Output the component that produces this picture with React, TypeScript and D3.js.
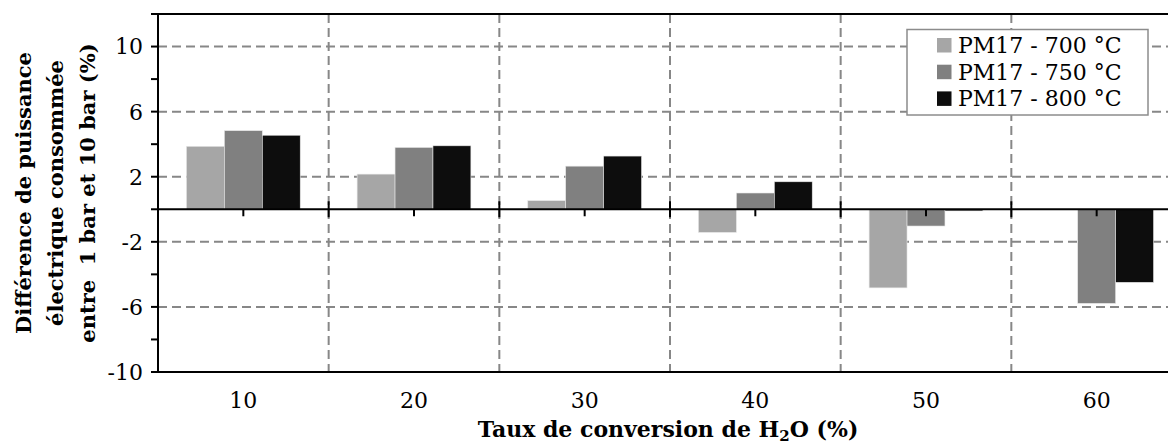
import React from "react";
import * as d3 from "d3";

const categories = ["10", "20", "30", "40", "50", "60"];
const seriesNames = ["PM17 - 700 °C", "PM17 - 750 °C", "PM17 - 800 °C"];
const s700 = [3.87, 2.16, 0.53, -1.42, -4.83, 0];
const s750 = [4.83, 3.8, 2.65, 1.0, -1.03, -5.78];
const s800 = [4.55, 3.9, 3.27, 1.69, -0.1, -4.49];
const seriesColors = ["#a6a6a6", "#808080", "#0d0d0d"];
const yTickValues = [-10, -8, -6, -4, -2, 0, 2, 4, 6, 8, 10, 12];
const yLabelValues = [-10, -6, -2, 2, 6, 10];
const yGridValues = [-6, -2, 2, 6, 10];
const yTitleLines = ["Différence de puissance", "électrique consommée", "entre  1 bar et 10 bar (%)"];

const W = 1168;
const H = 445;
const left = 158;
const top = 14;
const right = 1182;
const bottom = 372;
const FONT = "'DejaVu Serif', serif";

export default function App() {
  const series = [s700, s750, s800];
  const x0 = d3.scaleBand<string>().domain(categories).range([left, right]).paddingInner(0).paddingOuter(0);
  const bw = x0.bandwidth();
  const x1 = d3.scaleBand<number>().domain([0, 1, 2]).range([bw / 6, (bw * 5) / 6]).padding(0);
  const y = d3.scaleLinear().domain([-10, 12]).range([bottom, top]);
  const y0 = y(0);
  const boundaries = categories.slice(1).map((c) => x0(c) as number);

  return (
    <svg width={W} height={H} style={{ position: "absolute", left: 0, top: 0, background: "#fff" }} fontFamily={FONT}>
      <rect x={0} y={0} width={W} height={H} fill="#fff" />
      {yGridValues.map((v) => (
        <line key={"g" + v} x1={left} x2={right} y1={y(v)} y2={y(v)} stroke="#878787" strokeWidth={2} strokeDasharray="9 5" />
      ))}
      {boundaries.map((bx, i) => (
        <line key={"vg" + i} x1={bx} x2={bx} y1={top} y2={bottom} stroke="#878787" strokeWidth={2} strokeDasharray="9 5" />
      ))}
      {categories.map((c, ci) =>
        series.map((s, si) => {
          const v = s[ci];
          const bx = (x0(c) as number) + (x1(si) as number);
          const yy = Math.min(y(v), y0);
          const hh = Math.abs(y(v) - y0);
          return (
            <rect key={c + "-" + si} x={bx} y={yy} width={x1.bandwidth()} height={hh} fill={seriesColors[si]} stroke="#e6e6e6" strokeWidth={0.6} />
          );
        })
      )}
      <line x1={left} x2={right} y1={top} y2={top} stroke="#000" strokeWidth={2} />
      <line x1={left} x2={right} y1={bottom} y2={bottom} stroke="#000" strokeWidth={2} />
      <line x1={left} x2={left} y1={top} y2={bottom} stroke="#000" strokeWidth={2} />
      <line x1={left} x2={right} y1={y0} y2={y0} stroke="#000" strokeWidth={2} />
      {boundaries.map((bx, i) => (
        <line key={"bt" + i} x1={bx} x2={bx} y1={y0 - 8} y2={y0 + 8} stroke="#000" strokeWidth={2} />
      ))}
      {categories.map((c) => {
        const cx = (x0(c) as number) + bw / 2;
        return <line key={"ct" + c} x1={cx} x2={cx} y1={y0} y2={y0 + 7} stroke="#000" strokeWidth={2} />;
      })}
      {yTickValues.map((v) => (
        <line key={"yt" + v} x1={left - 7} x2={left} y1={y(v)} y2={y(v)} stroke="#000" strokeWidth={2} />
      ))}
      {yLabelValues.map((v) => (
        <text key={"yl" + v} x={143} y={y(v)} dy="0.36em" textAnchor="end" fontSize={22} fill="#000">
          {v}
        </text>
      ))}
      {categories.map((c) => (
        <text key={"xl" + c} x={(x0(c) as number) + bw / 2} y={408} textAnchor="middle" fontSize={22} fill="#000">
          {c}
        </text>
      ))}
      <text x={668} y={437} textAnchor="middle" fontSize={22} fontWeight="bold" fill="#000">
        Taux de conversion de H
        <tspan fontSize={15} dy={4}>2</tspan>
        <tspan dy={-4}>O (%)</tspan>
      </text>
      <g transform={`translate(0, 193) rotate(-90)`}>
        {yTitleLines.map((t, i) => (
          <text key={"ytl" + i} x={0} y={31 + i * 32} textAnchor="middle" fontSize={21} fontWeight="bold" fill="#000" style={{ whiteSpace: "pre" }}>
            {t}
          </text>
        ))}
      </g>
      <rect x={907} y={29.5} width={241} height={85.5} fill="#fff" stroke="#8c8c8c" strokeWidth={1.5} />
      {seriesNames.map((n, i) => (
        <g key={"lg" + i}>
          <rect x={937} y={38 + i * 26.7} width={14.5} height={14.5} fill={seriesColors[i]} />
          <text x={958} y={53 + i * 26.7} fontSize={22} fill="#000">
            {n}
          </text>
        </g>
      ))}
    </svg>
  );
}
